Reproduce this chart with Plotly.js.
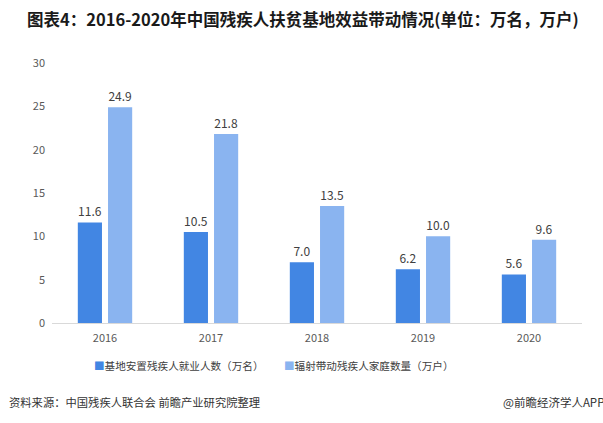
<!DOCTYPE html>
<html>
<head>
<meta charset="utf-8">
<script src="https://cdn.plot.ly/plotly-3.0.1.min.js"></script>
<style>
  html, body { margin: 0; padding: 0; background: #fff; }
  #chart { width: 603px; height: 423px; }
</style>
</head>
<body>
<div id="chart"></div>
<script>
// 年份
const years = ['2016', '2017', '2018', '2019', '2020'];
// 基地安置残疾人就业人数（万名）
const placedWorkers = [11.6, 10.5, 7.0, 6.2, 5.6];
// 辐射带动残疾人家庭数量（万户）
const drivenFamilies = [24.9, 21.8, 13.5, 10.0, 9.6];

const seriesNames = ['基地安置残疾人就业人数（万名）', '辐射带动残疾人家庭数量（万户）'];
const seriesColors = ['#4286E3', '#8AB4F0'];

const cjk = '"Noto Sans CJK SC", "Noto Sans", sans-serif';

const barText = {
  textposition: 'outside',
  texttemplate: '%{y:.1f}',
  textfont: { family: cjk, size: 12, color: '#404040' },
  cliponaxis: false,
  showlegend: false
};

const traces = [placedWorkers, drivenFamilies].map((vals, i) => Object.assign({
  type: 'bar',
  name: seriesNames[i],
  x: years,
  y: vals,
  marker: { color: seriesColors[i] }
}, barText));

// 图例用文字画，方块紧贴文字
const legendX = [92, 282];
const legendNotes = seriesNames.map((name, i) => ({
  xref: 'paper', yref: 'paper',
  x: (legendX[i] - 52) / 530, y: (323 - 365) / 260,
  xanchor: 'left', yanchor: 'middle',
  text: '<span style="color:' + seriesColors[i] + '">■</span>' + name,
  showarrow: false,
  font: { family: cjk, size: 10.6, color: '#404040' }
}));

const layout = {
  width: 603,
  height: 423,
  margin: { l: 52, r: 21, t: 63, b: 100 },
  paper_bgcolor: '#ffffff',
  plot_bgcolor: '#ffffff',
  barmode: 'group',
  bargap: 0.43,
  bargroupgap: 0.2,
  showlegend: false,
  title: {
    text: '<b>图表4：2016-2020年中国残疾人扶贫基地效益带动情况(单位：万名，万户)</b>',
    font: { family: cjk, size: 16.5, color: '#1a1a1a' },
    x: 27 / 603,
    xanchor: 'left',
    xref: 'container',
    y: 1 - 20 / 423,
    yanchor: 'middle'
  },
  xaxis: {
    type: 'category',
    showgrid: false,
    showline: true,
    linecolor: '#d9d9d9',
    linewidth: 1,
    ticks: '',
    ticklabelstandoff: 5,
    tickfont: { family: cjk, size: 11, color: '#595959' }
  },
  yaxis: {
    range: [0, 30],
    dtick: 5,
    showgrid: false,
    zeroline: false,
    showline: false,
    ticks: '',
    ticklabelstandoff: 6,
    tickfont: { family: cjk, size: 11, color: '#595959' }
  },
  annotations: legendNotes.concat([
    {
      xref: 'paper', yref: 'paper',
      x: -45 / 530, y: -79 / 260,
      xanchor: 'left', yanchor: 'middle',
      text: '资料来源：中国残疾人联合会 前瞻产业研究院整理',
      showarrow: false,
      font: { family: cjk, size: 11.3, color: '#333333' }
    },
    {
      xref: 'paper', yref: 'paper',
      x: 1 + 24 / 530, y: -79 / 260,
      xanchor: 'right', yanchor: 'middle',
      text: '@前瞻经济学人APP',
      showarrow: false,
      font: { family: cjk, size: 11.5, color: '#333333' }
    }
  ])
};

Plotly.newPlot('chart', traces, layout, { displayModeBar: false, staticPlot: true });
</script>
</body>
</html>
